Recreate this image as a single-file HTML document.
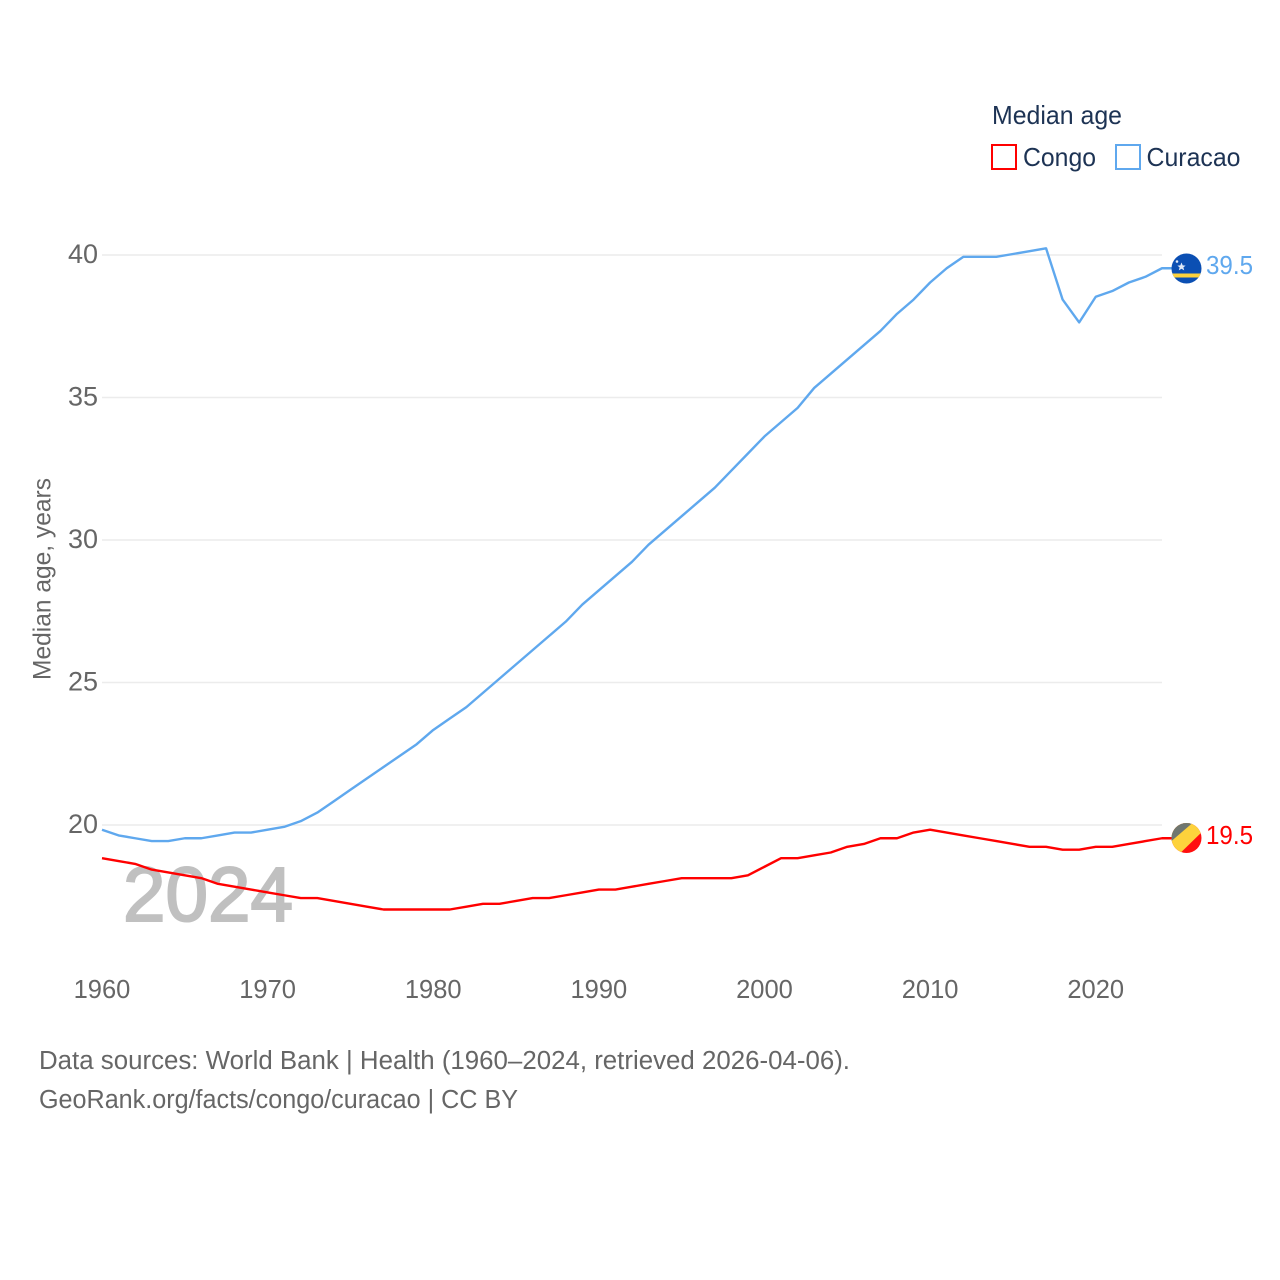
<!DOCTYPE html>
<html lang="en">
<head>
<meta charset="utf-8">
<title>Median age: Congo and Curacao</title>
<style>
html,body{margin:0;padding:0;background:#fff;width:1280px;height:1280px;overflow:hidden}
svg{display:block}
text{font-family:"Liberation Sans",sans-serif}
</style>
</head>
<body>
<svg id="chart" xmlns="http://www.w3.org/2000/svg" width="1280" height="1280" viewBox="0 0 1280 1280">
  <defs>
    <clipPath id="clip-curacao"><circle cx="1186.5" cy="268.5" r="15"/></clipPath>
    <clipPath id="clip-congo"><circle cx="1186.5" cy="838" r="15"/></clipPath>
  </defs>
  <rect width="1280" height="1280" fill="#fff"/>

  <g id="grid"></g>
  <g id="yticks"></g>
  <g id="xticks"></g>

  <text x="123" y="921" font-size="77" fill="#c0c0c0" stroke="#c0c0c0" stroke-width="2" textLength="170" lengthAdjust="spacingAndGlyphs">2024</text>

  <text transform="translate(50.5,680) rotate(-90)" font-size="25" fill="#666" textLength="202" lengthAdjust="spacingAndGlyphs">Median age, years</text>

  <path id="line-congo" fill="none" stroke="#ff0000" stroke-width="2.4" stroke-linejoin="round"/>
  <path id="line-curacao" fill="none" stroke="#5fa8ee" stroke-width="2.4" stroke-linejoin="round"/>

  <g>
    <g clip-path="url(#clip-curacao)">
      <rect x="1170" y="252" width="34" height="34" fill="#0b4fb3"/>
      <rect x="1170" y="273.5" width="34" height="4" fill="#fdd23c"/>
    </g>
    <polygon points="1181.5,262.5 1182.7,265.4 1185.6,265.6 1183.4,267.4 1184.2,270.4 1181.5,268.8 1178.8,270.4 1179.6,267.4 1177.4,265.6 1180.3,265.4" fill="#dfe9f8"/>
    <circle cx="1177" cy="261.5" r="1.3" fill="#dfe9f8"/>
  </g>
  <g clip-path="url(#clip-congo)">
    <rect x="1170" y="821" width="34" height="34" fill="#ff0f0f"/>
    <polygon points="1168,865 1168,820 1205,820 1205,829" fill="#fdd23c"/>
    <polygon points="1168,844 1168,820 1196,820" fill="#6f7670"/>
  </g>

  <text id="value-curacao" x="1206" y="274" font-size="25.5" fill="#5fa8ee" textLength="47" lengthAdjust="spacingAndGlyphs"></text>
  <text id="value-congo" x="1206" y="844" font-size="25.5" fill="#ff0000" textLength="47" lengthAdjust="spacingAndGlyphs"></text>

  <g>
    <text x="992" y="124" font-size="26" fill="#1d3354" textLength="130" lengthAdjust="spacingAndGlyphs">Median age</text>
    <g>
      <rect x="992" y="145" width="24" height="24" fill="none" stroke="#ff0000" stroke-width="2"/>
      <text x="1023" y="166" font-size="26" fill="#1d3354" textLength="73" lengthAdjust="spacingAndGlyphs">Congo</text>
    </g>
    <g>
      <rect x="1116" y="145" width="24" height="24" fill="none" stroke="#5fa8ee" stroke-width="2"/>
      <text x="1146.5" y="166" font-size="26" fill="#1d3354" textLength="94" lengthAdjust="spacingAndGlyphs">Curacao</text>
    </g>
  </g>

  <text x="39" y="1069" font-size="25.5" fill="#666" textLength="811" lengthAdjust="spacingAndGlyphs">Data sources: World Bank | Health (1960–2024, retrieved 2026-04-06).</text>
  <text x="39" y="1108" font-size="25.5" fill="#666" textLength="479" lengthAdjust="spacingAndGlyphs">GeoRank.org/facts/congo/curacao | CC BY</text>
</svg>
<script>
const firstYear = 1960;
const xTickLabels = [1960, 1970, 1980, 1990, 2000, 2010, 2020];
const yTickLabels = [20, 25, 30, 35, 40];
const curacaoValues = [
  19.8, 19.6, 19.5, 19.4, 19.4, 19.5, 19.5, 19.6, 19.7, 19.7,
  19.8, 19.9, 20.1, 20.4, 20.8, 21.2, 21.6, 22.0, 22.4, 22.8,
  23.3, 23.7, 24.1, 24.6, 25.1, 25.6, 26.1, 26.6, 27.1, 27.7,
  28.2, 28.7, 29.2, 29.8, 30.3, 30.8, 31.3, 31.8, 32.4, 33.0,
  33.6, 34.1, 34.6, 35.3, 35.8, 36.3, 36.8, 37.3, 37.9, 38.4,
  39.0, 39.5, 39.9, 39.9, 39.9, 40.0, 40.1, 40.2, 38.4, 37.6,
  38.5, 38.7, 39.0, 39.2, 39.5
];
const congoValues = [
  18.8, 18.7, 18.6, 18.4, 18.3, 18.2, 18.1, 17.9, 17.8, 17.7,
  17.6, 17.5, 17.4, 17.4, 17.3, 17.2, 17.1, 17.0, 17.0, 17.0,
  17.0, 17.0, 17.1, 17.2, 17.2, 17.3, 17.4, 17.4, 17.5, 17.6,
  17.7, 17.7, 17.8, 17.9, 18.0, 18.1, 18.1, 18.1, 18.1, 18.2,
  18.5, 18.8, 18.8, 18.9, 19.0, 19.2, 19.3, 19.5, 19.5, 19.7,
  19.8, 19.7, 19.6, 19.5, 19.4, 19.3, 19.2, 19.2, 19.1, 19.1,
  19.2, 19.2, 19.3, 19.4, 19.5
];

const SVG_NS = 'http://www.w3.org/2000/svg';
function xScale(year) { return 102 + (year - 1960) * (1162 - 102) / 64; }
function yScale(value) { return 825 - (value - 20) * (825 - 255) / 20; }
function lineY(value) { return yScale(value) - 1; }
function linePath(values) {
  const points = values.map(function (v, i) { return xScale(firstYear + i).toFixed(2) + ' ' + lineY(v).toFixed(2); });
  const lastValue = values[values.length - 1];
  return 'M' + points.join('L') + 'L1172 ' + lineY(lastValue).toFixed(2);
}

const gridGroup = document.getElementById('grid');
const yGroup = document.getElementById('yticks');
const xGroup = document.getElementById('xticks');

yTickLabels.forEach(function (tick) {
  const rule = document.createElementNS(SVG_NS, 'line');
  
  
  rule.setAttribute('x1', 102);
  rule.setAttribute('x2', 1162);
  rule.setAttribute('y1', yScale(tick));
  rule.setAttribute('y2', yScale(tick));
  rule.setAttribute('stroke', '#ececec');
  rule.setAttribute('stroke-width', '1.5');
  gridGroup.appendChild(rule);

  const label = document.createElementNS(SVG_NS, 'text');
  
  
  label.setAttribute('x', 98);
  label.setAttribute('y', yScale(tick) + 8);
  label.setAttribute('text-anchor', 'end');
  label.setAttribute('font-size', '27');
  label.setAttribute('fill', '#666');
  label.textContent = tick;
  yGroup.appendChild(label);
});

xTickLabels.forEach(function (tick) {
  const label = document.createElementNS(SVG_NS, 'text');
  
  
  label.setAttribute('x', xScale(tick));
  label.setAttribute('y', 998);
  label.setAttribute('text-anchor', 'middle');
  label.setAttribute('font-size', '25.5');
  label.setAttribute('fill', '#666');
  label.textContent = tick;
  xGroup.appendChild(label);
});

document.getElementById('line-curacao').setAttribute('d', linePath(curacaoValues));
document.getElementById('line-congo').setAttribute('d', linePath(congoValues));
document.getElementById('value-curacao').textContent = curacaoValues[curacaoValues.length - 1].toFixed(1);
document.getElementById('value-congo').textContent = congoValues[congoValues.length - 1].toFixed(1);
</script>
</body>
</html>
